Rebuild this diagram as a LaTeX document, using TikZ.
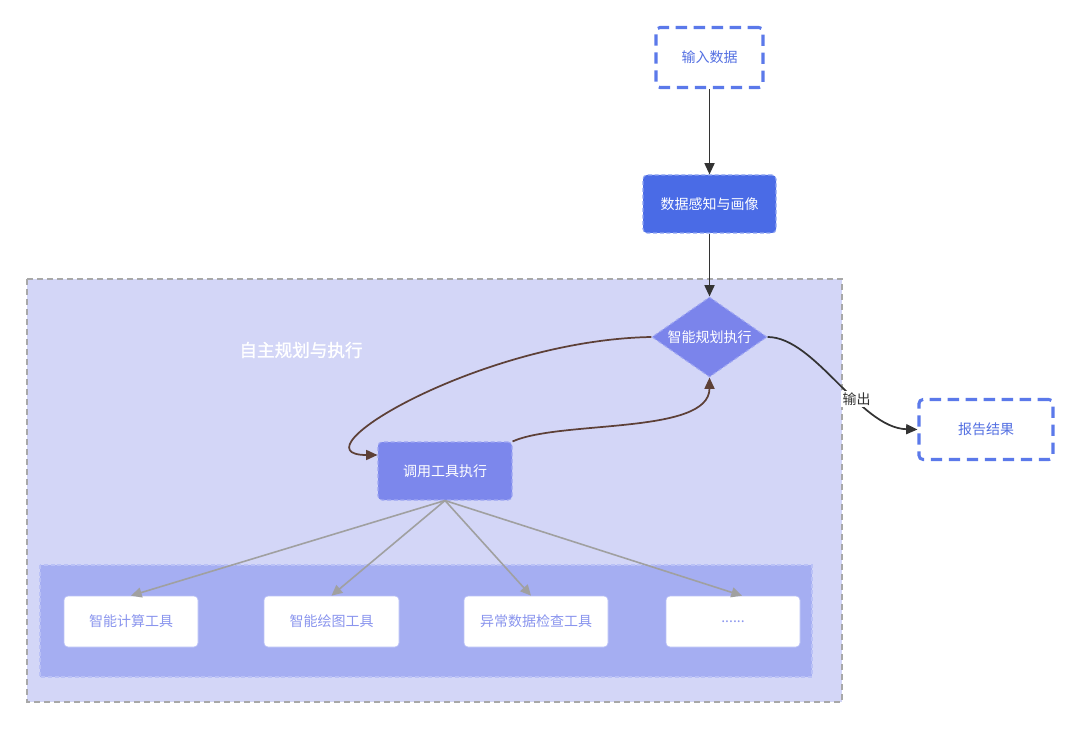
\documentclass[tikz,border=0pt]{standalone}
\usepackage{fontspec}
\setmainfont{Noto Sans CJK SC}
\newfontfamily\titlefont[FakeBold=1.2]{Noto Sans CJK SC}
\usetikzlibrary{shapes.geometric,arrows.meta}
\definecolor{bluebd}{HTML}{5B79EA}
\definecolor{bluetx}{HTML}{5470E2}
\definecolor{percfill}{HTML}{4A6BE6}
\definecolor{percbd}{HTML}{8FA5F2}
\definecolor{diafill}{HTML}{7B84EB}
\definecolor{diabd}{HTML}{9EA6F3}
\definecolor{tefill}{HTML}{7C87EC}
\definecolor{outerfill}{HTML}{D3D6F7}
\definecolor{outerbd}{HTML}{A8A8A8}
\definecolor{innerfill}{HTML}{A5AEF2}
\definecolor{innerbd}{HTML}{BAC1F6}
\definecolor{tooltx}{HTML}{8A95EE}
\definecolor{darkln}{HTML}{333333}
\definecolor{brownln}{HTML}{5D4037}
\definecolor{grayln}{HTML}{A0A0A0}
\tikzset{
  txt/.style={font=\fontsize{10.5}{12}\selectfont, inner sep=0pt},
  outbox/.style={txt, draw=bluebd, line width=2.3pt, dash pattern=on 8.5pt off 5pt, rounded corners=3pt, fill=white, text=bluetx, minimum width=#1*0.75pt, minimum height=60*0.75pt},
  solidbox/.style={txt, draw=percbd, line width=0.8pt, dash pattern=on 3pt off 2pt, rounded corners=3pt, text=white},
  toolbox/.style={txt, fill=white, draw=innerbd, line width=0.5pt, rounded corners=3pt, text=tooltx, minimum width=#1*0.75pt, minimum height=51*0.75pt},
  darr/.style={draw=darkln, line width=1.3pt, -{Triangle[length=8.5pt,width=7.5pt]}},
  barr/.style={draw=brownln, line width=1.3pt, -{Triangle[length=8.5pt,width=7.5pt]}},
  garr/.style={draw=grayln, line width=1.2pt, -{Triangle[length=8pt,width=7.5pt]}},
}
\begin{document}
\begin{tikzpicture}[x=0.75pt,y=-0.75pt]
\useasboundingbox (0,0) rectangle (1080,730);
% containers
\path[fill=outerfill, draw=outerbd, line width=1.1pt, dash pattern=on 4.5pt off 3pt] (27,279) rectangle (842,702);
\path[fill=innerfill, draw=innerbd, line width=0.9pt, dash pattern=on 3pt off 2pt] (40,565) rectangle (812,677);
\node[txt, font=\titlefont\fontsize{13.2}{15}\selectfont, text=white] (title) at (301,350) {自主规划与执行};
% nodes
\node[outbox=107] (in) at (709.5,57.5) {输入数据};
\node[solidbox, fill=percfill, minimum width=133*0.75pt, minimum height=58*0.75pt] (perc) at (709.5,204) {数据感知与画像};
\node[txt, diamond, fill=diafill, draw=diabd, line width=0.8pt, dash pattern=on 3pt off 2pt, text=white, minimum width=115*0.75pt, minimum height=80*0.75pt, shape aspect=1.44] (dia) at (709.5,337) {智能规划执行};
\node[solidbox, fill=tefill, draw=diabd, minimum width=134*0.75pt, minimum height=58*0.75pt] (te) at (445,471) {调用工具执行};
\node[outbox=134] (rep) at (986,429.5) {报告结果};
\node[toolbox=134] (t1) at (131,621.5) {智能计算工具};
\node[toolbox=135] (t2) at (331.5,621.5) {智能绘图工具};
\node[toolbox=144] (t3) at (536,621.5) {异常数据检查工具};
\node[toolbox=134] (t4) at (733,621.5) {......};
% connectors
\draw[darr] (in.south) -- (perc.north);
\draw[darr] (perc.south) -- (dia.north);
\draw[barr] (dia.west) .. controls (480,340) and (290,455) .. ([yshift=12pt]te.west);
\draw[barr] (te.north east) .. controls (560,420) and (709.5,435) .. (dia.south);
\draw[darr] (dia.east) .. controls (815,337) and (860,428) .. (rep.west)
  node[pos=0.62, fill=white, inner sep=1pt, text=darkln, font=\fontsize{10.5}{12}\selectfont] (lbl) {输出};
\coordinate (tb) at (te.south);
\draw[garr] (tb) -- (t1.north);
\draw[garr] (tb) -- (t2.north);
\draw[garr] (tb) -- ([xshift=-3.75pt]t3.north);
\draw[garr] (tb) -- ([xshift=6.75pt]t4.north);
\end{tikzpicture}
\end{document}
